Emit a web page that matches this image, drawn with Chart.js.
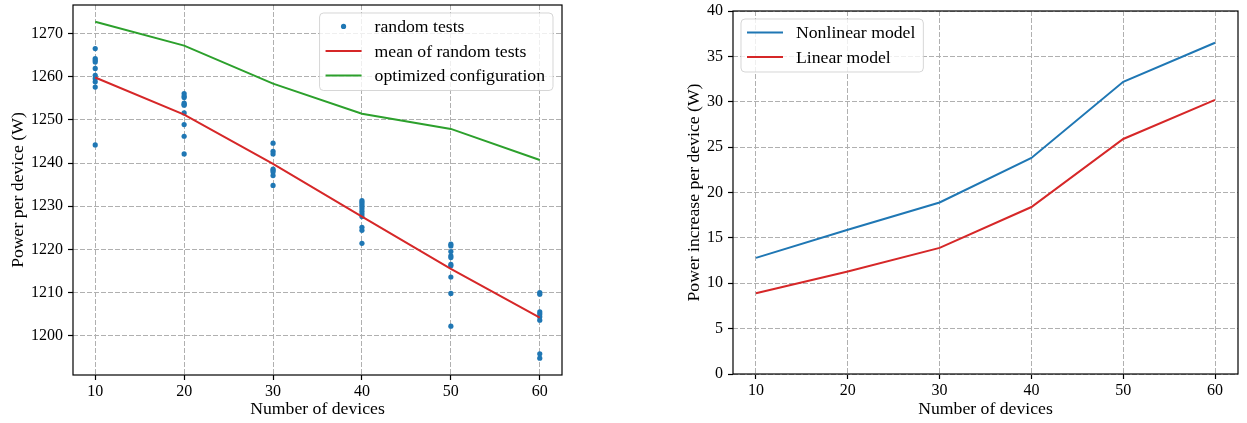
<!DOCTYPE html>
<html>
<head>
<meta charset="utf-8">
<script src="https://cdn.jsdelivr.net/npm/chart.js@4.4.0/dist/chart.umd.min.js"></script>
<style>
  html, body { margin: 0; padding: 0; background: #fff; }
  body { width: 1247px; height: 423px; position: relative; overflow: hidden; }
  canvas { position: absolute; top: 0; }
  #left { left: 0; }
  #right { left: 640px; }
</style>
</head>
<body>
<canvas id="left" width="600" height="423"></canvas>
<canvas id="right" width="607" height="423"></canvas>
<script>
// x values shared by both panels
const devices = [10, 20, 30, 40, 50, 60];

// random tests, one list per device count
const tests10 = [1266.5, 1264.2, 1263.8, 1263.4, 1261.9, 1260.3, 1259.6, 1258.8, 1257.6, 1244.2];
const tests20 = [1256.1, 1255.5, 1255.2, 1253.9, 1253.6, 1253.4, 1251.6, 1248.9, 1246.2, 1242.1];
const tests30 = [1244.6, 1242.7, 1242.1, 1238.6, 1238.3, 1237.9, 1237.1, 1234.8];
const tests40 = [1231.3, 1230.9, 1230.4, 1229.9, 1229.4, 1228.8, 1228.2, 1227.6, 1225.1, 1224.4, 1221.4];
const tests50 = [1221.2, 1220.8, 1219.5, 1218.5, 1218.1, 1216.5, 1216.2, 1213.6, 1209.8, 1202.2];
const tests60 = [1210.0, 1209.6, 1205.5, 1205.0, 1204.4, 1203.6, 1195.8, 1194.8];

const meanRandom = [1259.8, 1251.2, 1239.8, 1227.6, 1215.5, 1204.2];
const optimized = [1272.7, 1267.2, 1258.4, 1251.4, 1247.9, 1240.7];

// right panel
const nonlinearModel = [12.8, 15.9, 18.9, 23.8, 32.2, 36.5];
const linearModel = [8.9, 11.3, 13.9, 18.4, 25.9, 30.2];

// tick labels
const xTicks = [10, 20, 30, 40, 50, 60];
const leftYTicks = [1200, 1210, 1220, 1230, 1240, 1250, 1260, 1270];
const rightYTicks = [0, 5, 10, 15, 20, 25, 30, 35, 40];

const BLUE = "#1f77b4";
const RED = "#d62728";
const GREEN = "#2ca02c";
const FONT = "'Liberation Serif', 'Times New Roman', serif";
const TEXT_SIZE = 17.7;

const toPoints = (ys) => devices.map((x, i) => ({ x: x, y: ys[i] }));

const scatterPoints = [];
[tests10, tests20, tests30, tests40, tests50, tests60].forEach((list, i) => {
  list.forEach(v => scatterPoints.push({ x: devices[i], y: v }));
});

// Draws the full box around the plot and a matplotlib-like legend inside it
const frameAndLegend = {
  id: "frameAndLegend",
  afterDatasetsDraw(chart) {
    const a = chart.chartArea;
    const ctx = chart.ctx;
    ctx.save();
    ctx.strokeStyle = "#000";
    ctx.lineWidth = 1.2;
    ctx.strokeRect(a.left, a.top, a.right - a.left, a.bottom - a.top);
    ctx.restore();
  },
  afterDraw(chart, args, opts) {
    const a = chart.chartArea;
    const ctx = chart.ctx;
    const sets = chart.data.datasets;
    ctx.save();
    ctx.font = TEXT_SIZE + "px " + FONT;
    let maxW = 0;
    sets.forEach(d => { maxW = Math.max(maxW, ctx.measureText(d.label).width); });
    const w = 55 + maxW + 8;
    const h = sets.length * 24.5 + 4;
    const x0 = opts.corner === "right" ? a.right - 9 - w : a.left + 8;
    const y0 = a.top + 8;

    ctx.beginPath();
    ctx.roundRect(x0, y0, w, h, 4);
    ctx.fillStyle = "rgba(255,255,255,0.8)";
    ctx.fill();
    ctx.strokeStyle = "rgba(204,204,204,0.8)";
    ctx.lineWidth = 1;
    ctx.stroke();

    sets.forEach((d, i) => {
      const cy = y0 + 13.4 + i * 24.5;
      if (d.showLine) {
        ctx.beginPath();
        ctx.moveTo(x0 + 6, cy);
        ctx.lineTo(x0 + 42, cy);
        ctx.strokeStyle = d.borderColor;
        ctx.lineWidth = d.borderWidth;
        ctx.stroke();
      } else {
        ctx.beginPath();
        ctx.arc(x0 + 24, cy, 2.6, 0, Math.PI * 2);
        ctx.fillStyle = d.backgroundColor;
        ctx.fill();
      }
      ctx.fillStyle = "#000";
      ctx.textBaseline = "middle";
      ctx.textAlign = "left";
      ctx.fillText(d.label, x0 + 55, cy + 1);
    });
    ctx.restore();
  }
};

function xAxis(height) {
  return {
    type: "linear",
    min: 7.5,
    max: 62.5,
    afterBuildTicks: s => { s.ticks = xTicks.map(v => ({ value: v })); },
    afterFit: s => { s.height = height; },
    ticks: { color: "#000", font: { family: FONT, size: 16 }, padding: 2, maxRotation: 0, callback: v => String(v) },
    grid: { color: "#b0b0b0", lineWidth: 1, tickColor: "#000", tickLength: 5, tickWidth: 1.2 },
    border: { display: false, dash: [5, 2] },
    title: { display: true, text: "Number of devices", color: "#000", font: { family: FONT, size: TEXT_SIZE }, padding: { top: 0, bottom: 3 } }
  };
}

function yAxis(min, max, tickList, label, width, titlePad) {
  return {
    type: "linear",
    min: min,
    max: max,
    afterBuildTicks: s => { s.ticks = tickList.map(v => ({ value: v })); },
    afterFit: s => {
      s.width = width;
      // keep the plot box where the layout padding puts it
      s.paddingTop = 0;
      s.paddingBottom = 0;
    },
    ticks: { color: "#000", font: { family: FONT, size: 16 }, padding: 5, callback: v => String(v) },
    grid: { color: "#b0b0b0", lineWidth: 1, tickColor: "#000", tickLength: 5, tickWidth: 1.2 },
    border: { display: false, dash: [5, 2] },
    title: { display: true, text: label, color: "#000", font: { family: FONT, size: TEXT_SIZE }, padding: { top: titlePad, bottom: 0 } }
  };
}

new Chart(document.getElementById("left"), {
  type: "scatter",
  data: {
    datasets: [
      {
        label: "random tests",
        data: scatterPoints,
        backgroundColor: BLUE,
        borderWidth: 0,
        pointRadius: 2.6,
        showLine: false,
        order: 3
      },
      {
        label: "mean of random tests",
        data: toPoints(meanRandom),
        borderColor: RED,
        borderWidth: 2,
        pointRadius: 0,
        showLine: true,
        order: 2
      },
      {
        label: "optimized configuration",
        data: toPoints(optimized),
        borderColor: GREEN,
        borderWidth: 2,
        pointRadius: 0,
        showLine: true,
        order: 1
      }
    ]
  },
  options: {
    responsive: false,
    animation: false,
    layout: { padding: { top: 5, right: 38, bottom: 0, left: 0 } },
    plugins: { legend: { display: false }, tooltip: { enabled: false }, frameAndLegend: { corner: "right" } },
    scales: {
      x: xAxis(48),
      y: yAxis(1190.9, 1276.6, leftYTicks, "Power per device (W)", 73, 8)
    }
  },
  plugins: [frameAndLegend]
});

new Chart(document.getElementById("right"), {
  type: "scatter",
  data: {
    datasets: [
      {
        label: "Nonlinear model",
        data: toPoints(nonlinearModel),
        borderColor: BLUE,
        borderWidth: 2,
        pointRadius: 0,
        showLine: true
      },
      {
        label: "Linear model",
        data: toPoints(linearModel),
        borderColor: RED,
        borderWidth: 2,
        pointRadius: 0,
        showLine: true
      }
    ]
  },
  options: {
    responsive: false,
    animation: false,
    layout: { padding: { top: 11, right: 9, bottom: 0, left: 0 } },
    plugins: { legend: { display: false }, tooltip: { enabled: false }, frameAndLegend: { corner: "left" } },
    scales: {
      x: xAxis(49),
      y: yAxis(0, 40, rightYTicks, "Power increase per device (W)", 93, 44)
    }
  },
  plugins: [frameAndLegend]
});
</script>
</body>
</html>
